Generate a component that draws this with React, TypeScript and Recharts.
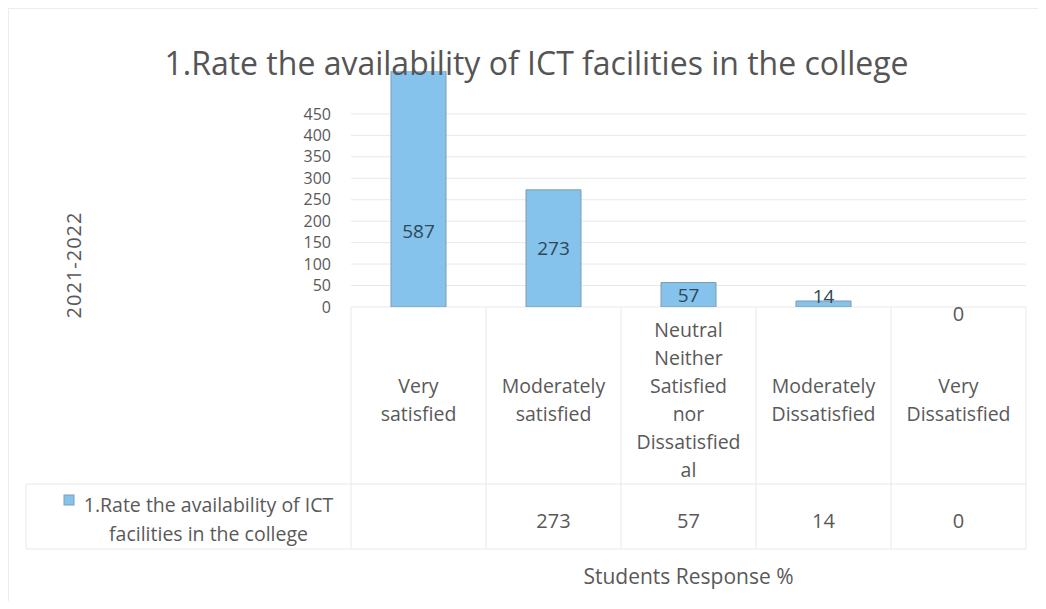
import { Bar, BarChart, CartesianGrid, LabelList, Rectangle, XAxis, YAxis } from "recharts";

const CATEGORIES = [
  "Very satisfied",
  "Moderately satisfied",
  "Neutral Neither Satisfied nor Dissatisfied al",
  "Moderately Dissatisfied",
  "Very Dissatisfied"
];

// wrapped lines as they appear in the data table header cells
const CATEGORY_LINES = [
  ["Very", "satisfied"],
  ["Moderately", "satisfied"],
  ["Neutral", "Neither", "Satisfied", "nor", "Dissatisfied", "al"],
  ["Moderately", "Dissatisfied"],
  ["Very", "Dissatisfied"]
];

const RESPONSES = [587, 273, 57, 14, 0];

// values shown in the data table row (first cell is blank in the source)
const TABLE_VALUES = ["", "273", "57", "14", "0"];

const Y_TICKS = [0, 50, 100, 150, 200, 250, 300, 350, 400, 450];
const Y_MAX = 550;

const SERIES_NAME = "1.Rate the availability of ICT facilities in the college";
const LEGEND_LINES = ["1.Rate the availability of ICT", "facilities in the college"];

const BAR_COLOR = "#86c3ec";
const GRID_COLOR = "#e8e8e8";
const TEXT_COLOR = "#595959";
const FONT = "'Open Sans', 'Noto Sans', sans-serif";

const rows = CATEGORIES.map((name, index) => ({
  name,
  value: RESPONSES[index]
}));

const HEADER_HEIGHT = 177;
const ROW_HEIGHT = 65;
const LEGEND_LEFT = 17;

function TableTick(props: any) {
  const { x, y, index, width } = props;
  const band = width / CATEGORIES.length;
  const left = x - band / 2;
  const right = x + band / 2;
  const lines = CATEGORY_LINES[index] ?? [];
  const lineHeight = 28;
  const firstY = y + HEADER_HEIGHT / 2 - ((lines.length - 1) * lineHeight) / 2 + 4;
  const rowTop = y + HEADER_HEIGHT;
  const rowBottom = rowTop + ROW_HEIGHT;

  return (
    <g>
      <line x1={right} y1={y} x2={right} y2={rowBottom} stroke={GRID_COLOR} />
      {index === 0 ? <line x1={left} y1={y} x2={left} y2={rowBottom} stroke={GRID_COLOR} /> : null}
      <line x1={left} y1={rowTop} x2={right} y2={rowTop} stroke={GRID_COLOR} />
      <line x1={left} y1={rowBottom} x2={right} y2={rowBottom} stroke={GRID_COLOR} />
      {lines.map((line, i) => (
        <text
          key={line + i}
          x={x}
          y={firstY + i * lineHeight}
          textAnchor="middle"
          dominantBaseline="central"
          fill={TEXT_COLOR}
          fontSize={19.5}
          fontFamily={FONT}
        >
          {line}
        </text>
      ))}
      <text
        x={x}
        y={rowTop + ROW_HEIGHT / 2 + 4}
        textAnchor="middle"
        dominantBaseline="central"
        fill={TEXT_COLOR}
        fontSize={20}
        fontFamily={FONT}
      >
        {TABLE_VALUES[index]}
      </text>
      {index === 0 ? (
        <g>
          <line x1={LEGEND_LEFT} y1={rowTop} x2={left} y2={rowTop} stroke={GRID_COLOR} />
          <line x1={LEGEND_LEFT} y1={rowBottom} x2={left} y2={rowBottom} stroke={GRID_COLOR} />
          <line x1={LEGEND_LEFT} y1={rowTop} x2={LEGEND_LEFT} y2={rowBottom} stroke={GRID_COLOR} />
          <rect x={55} y={rowTop + 11} width={10} height={10} fill={BAR_COLOR} stroke="#7f9fb5" />
          {LEGEND_LINES.map((line, i) => (
            <text
              key={line}
              x={(LEGEND_LEFT + left) / 2 + 20}
              y={rowTop + 20 + i * 29}
              textAnchor="middle"
              dominantBaseline="central"
              fill={TEXT_COLOR}
              fontSize={19.5}
              fontFamily={FONT}
            >
              {line}
            </text>
          ))}
        </g>
      ) : null}
    </g>
  );
}

function ValueLabel(props: any) {
  const { x, y, width, height, value } = props;
  let cy = y + height - Math.min(height / 2, 76);
  if (value === 0) {
    cy = y + 7;
  } else if (height < 15) {
    cy = y - 5;
  }
  return (
    <text
      x={x + width / 2}
      y={cy}
      textAnchor="middle"
      dominantBaseline="central"
      fill={value === 0 ? TEXT_COLOR : "#2f4757"}
      fontSize={value === 0 ? 20 : 19}
      fontFamily={FONT}
    >
      {value}
    </text>
  );
}

function BarShape(props: any) {
  if (props.payload && props.payload.value === 0) {
    return <g />;
  }
  return <Rectangle {...props} />;
}

function YearLabel(props: any) {
  const { viewBox } = props;
  const cx = viewBox.x + 64;
  const cy = viewBox.y + viewBox.height / 2 + 76;
  return (
    <text
      x={cx}
      y={cy}
      transform={`rotate(-90 ${cx} ${cy})`}
      textAnchor="middle"
      dominantBaseline="central"
      fill={TEXT_COLOR}
      fontSize={20}
      letterSpacing={1}
      fontFamily={FONT}
    >
      2021-2022
    </text>
  );
}

// grid only at the labelled ticks (the scale runs above 450 so the tall bar is clipped)
function gridRows(props: any) {
  const scale = props?.yAxis?.scale;
  if (typeof scale === "function") {
    return Y_TICKS.map((tick) => scale(tick));
  }
  const { top, height } = props.offset;
  return Y_TICKS.map((tick) => top + height * (1 - tick / Y_MAX));
}

export default function App() {
  return (
    <div
      style={{
        position: "relative",
        width: 1030,
        height: 593,
        boxSizing: "border-box",
        borderLeft: "1px solid #ececec",
        borderTop: "1px solid #ececec",
        background: "#fff"
      }}
    >
      <BarChart
        width={1030}
        height={593}
        data={rows}
        margin={{ top: 62, right: 13, bottom: 5, left: 0 }}
        barCategoryGap={40}
      >
        <CartesianGrid vertical={false} stroke={GRID_COLOR} horizontalCoordinatesGenerator={gridRows} />
        <YAxis
          width={342}
          domain={[0, Y_MAX]}
          ticks={Y_TICKS}
          allowDataOverflow
          interval={0}
          axisLine={false}
          tickLine={false}
          tickSize={0}
          tickMargin={20}
          tick={{ fill: TEXT_COLOR, fontSize: 16, fontFamily: FONT }}
          label={<YearLabel />}
        />
        <XAxis
          dataKey="name"
          height={290}
          interval={0}
          axisLine={false}
          tickLine={false}
          tickSize={0}
          tickMargin={0}
          tick={<TableTick />}
          label={{
            value: "Students Response %",
            position: "insideBottom",
            offset: 13,
            fill: TEXT_COLOR,
            fontSize: 21,
            fontFamily: FONT
          }}
        />
        <Bar
          dataKey="value"
          name={SERIES_NAME}
          fill={BAR_COLOR}
          stroke="#7d9bb0"
          strokeWidth={1}
          minPointSize={1}
          shape={<BarShape />}
          isAnimationActive={false}
        >
          <LabelList dataKey="value" content={<ValueLabel />} />
        </Bar>
      </BarChart>
      <div
        style={{
          position: "absolute",
          left: 0,
          top: 32,
          width: 1055,
          textAlign: "center",
          fontFamily: FONT,
          fontSize: 32,
          color: "#555",
          pointerEvents: "none"
        }}
      >
        {SERIES_NAME}
      </div>
    </div>
  );
}
